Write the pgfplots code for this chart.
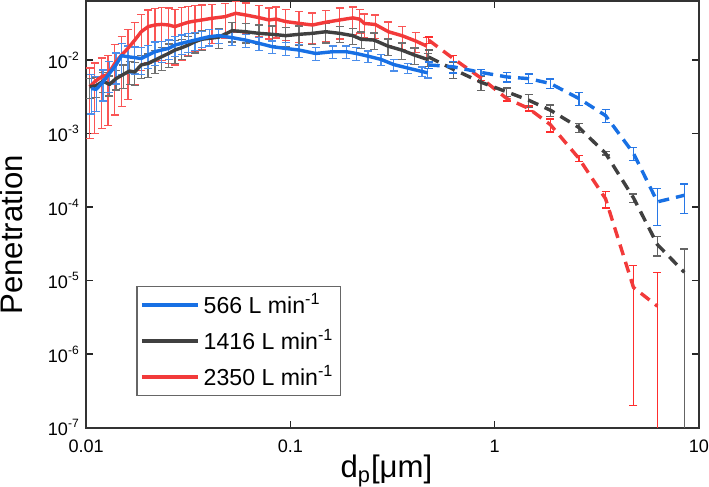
\documentclass[border=0pt]{standalone}
\usepackage{pgfplots}
\usepackage{pgfplotstable}
\pgfplotsset{compat=1.18}
\usepackage{fontspec}
\setmainfont{Liberation Sans}

\definecolor{cBlue}{RGB}{24,112,228}
\definecolor{cGray}{RGB}{64,64,64}
\definecolor{cRed}{RGB}{242,58,58}
\definecolor{eBlue}{RGB}{75,142,235}
\definecolor{eGray}{RGB}{112,112,112}
\definecolor{eRed}{RGB}{250,85,85}
\definecolor{aBlue}{RGB}{40,120,230}
\definecolor{aGray}{RGB}{100,100,100}
\definecolor{aRed}{RGB}{255,45,45}

% SMPS (solid): x, y, relative error
\pgfplotstableread{
x y e
0.0106 0.0041 0.55
0.0112 0.0040 0.50
0.0121 0.00507 0.45
0.0130 0.0066 0.45
0.0140 0.0086 0.45
0.0149 0.0115 0.45
0.0160 0.0111 0.40
0.0173 0.0108 0.40
0.0186 0.0105 0.40
0.0201 0.0117 0.35
0.0217 0.0130 0.35
0.0234 0.0137 0.32
0.0253 0.0144 0.30
0.0272 0.0160 0.30
0.0293 0.0169 0.30
0.0316 0.0178 0.28
0.0341 0.0187 0.28
0.0368 0.0197 0.25
0.0400 0.0208 0.25
0.0446 0.0215 0.22
0.0518 0.0202 0.22
0.0603 0.0187 0.20
0.0702 0.0169 0.20
0.0815 0.0152 0.20
0.0948 0.0144 0.20
0.110 0.0137 0.20
0.133 0.0123 0.20
0.161 0.0130 0.20
0.188 0.0130 0.20
0.210 0.0123 0.20
0.240 0.0113 0.18
0.278 0.0102 0.18
0.320 0.0087 0.18
0.375 0.0078 0.16
0.440 0.0070 0.15
0.470 0.0067 0.15
}\smpsBlue

\pgfplotstableread{
x y e
0.0104 0.00433 0.30
0.0112 0.00447 0.30
0.0121 0.00517 0.30
0.0130 0.00466 0.30
0.0140 0.0056 0.30
0.0152 0.00638 0.35
0.0163 0.0071 0.35
0.0173 0.0069 0.35
0.0186 0.0086 0.35
0.0201 0.0090 0.35
0.0217 0.0100 0.35
0.0234 0.0111 0.35
0.0253 0.0123 0.35
0.0272 0.0137 0.35
0.0293 0.0147 0.30
0.0316 0.0160 0.30
0.0341 0.0178 0.30
0.0368 0.0192 0.30
0.0446 0.0205 0.30
0.0518 0.0251 0.30
0.0603 0.0243 0.30
0.0702 0.0231 0.30
0.0815 0.0224 0.30
0.0948 0.0215 0.30
0.110 0.0224 0.30
0.128 0.0231 0.30
0.149 0.0243 0.30
0.174 0.0231 0.25
0.202 0.0215 0.25
0.222 0.0192 0.25
0.257 0.0187 0.25
0.300 0.0155 0.25
0.350 0.0137 0.25
0.405 0.0117 0.25
0.470 0.0102 0.20
}\smpsGray

\pgfplotstableread{
x y e
0.0104 0.00433 0.80
0.0110 0.00507 0.80
0.0119 0.00593 0.80
0.0128 0.00638 0.80
0.0138 0.0090 0.80
0.0149 0.0117 0.80
0.0160 0.0144 0.80
0.0173 0.0187 0.75
0.0186 0.0243 0.70
0.0201 0.0285 0.68
0.0217 0.0300 0.68
0.0234 0.0306 0.68
0.0253 0.0300 0.70
0.0272 0.0285 0.70
0.0293 0.0306 0.68
0.0316 0.0327 0.65
0.0341 0.0340 0.62
0.0368 0.0351 0.60
0.0413 0.0370 0.55
0.0480 0.0390 0.50
0.0539 0.0433 0.45
0.0603 0.0411 0.45
0.0702 0.0378 0.45
0.0786 0.0351 0.45
0.0849 0.0362 0.45
0.0948 0.0334 0.45
0.110 0.0316 0.45
0.128 0.0300 0.45
0.149 0.0327 0.45
0.174 0.0351 0.45
0.202 0.0375 0.40
0.218 0.0360 0.35
0.230 0.0315 0.35
0.260 0.0305 0.35
0.302 0.0243 0.35
0.353 0.0214 0.35
0.410 0.0182 0.30
0.465 0.0155 0.30
}\smpsRed

% APS (dashed): x, y, relative error plus, relative error minus
\pgfplotstableread{
x y ep em
0.475 0.0086 0.10 0.10
0.627 0.0081 0.18 0.18
0.857 0.0068 0.10 0.10
1.146 0.0059 0.15 0.15
1.466 0.0056 0.15 0.15
1.875 0.0048 0.15 0.15
2.585 0.0030 0.20 0.20
3.49 0.00176 0.20 0.20
4.78 0.00054 0.20 0.20
6.26 0.000118 0.52 0.52
8.48 0.000145 0.43 0.43
}\apsBlue

\pgfplotstableread{
x y ep em
0.475 0.0110 0.25 0.25
0.627 0.0075 0.25 0.25
0.857 0.0050 0.22 0.22
1.146 0.0037 0.13 0.13
1.466 0.00285 0.20 0.20
1.875 0.00208 0.18 0.18
2.585 0.00121 0.14 0.14
3.49 0.00054 0.05 0.05
4.78 0.000134 0.13 0.13
6.26 0.000031 0.30 0.30
8.48 0.000013 1.08 0.9999
}\apsGray

\pgfplotstableread{
x y ep em
0.475 0.0187 0.10 0.10
0.627 0.0105 0.10 0.10
0.857 0.0057 0.08 0.08
1.146 0.0030 0.07 0.07
1.466 0.0022 0.08 0.08
1.875 0.00132 0.20 0.20
2.585 0.00046 0.10 0.10
3.49 0.00013 0.25 0.25
4.78 0.0000081 0.975 0.975
6.26 0.0000045 1.90 0.9999
}\apsRed

\pgfplotsset{errs/.style={forget plot, color=#1, draw=none, mark=none,
  error bars/.cd, y dir=both, y explicit relative, error mark=-,
  error bar style={line width=0.65pt, solid, color=#1, draw=#1},
  error mark options={rotate=90, line width=0.65pt, mark size=2pt, color=#1, draw=#1, solid}}}

\begin{document}
\begin{tikzpicture}
\begin{axis}[
  scale only axis, width=305pt, height=212.5pt,
  xmode=log, ymode=log,
  xmin=0.01, xmax=10, ymin=1e-7, ymax=0.064,
  xtick={0.01,0.1,1,10}, xticklabels={0.01,0.1,1,10},
  ytick={1e-7,1e-6,1e-5,1e-4,1e-3,1e-2},
  yticklabels={10\textsuperscript{-7},10\textsuperscript{-6},10\textsuperscript{-5},10\textsuperscript{-4},10\textsuperscript{-3},10\textsuperscript{-2}},
  xminorticks=false, yminorticks=false,
  xtick pos=both, ytick pos=both, xticklabel pos=left, yticklabel pos=left,
  tick align=inside, major tick length=3.5pt,
  axis line style={line width=0.8pt, color=black!80},
  every tick/.style={line width=0.8pt, color=black!85},
  ticklabel style={font=\fontsize{9}{10}\selectfont, inner sep=0pt},
  xticklabel style={yshift=-6pt},
  yticklabel style={xshift=-3pt},
  xlabel={d\textsubscript{p}[μm]}, ylabel={Penetration},
  label style={font=\fontsize{15.5}{18}\selectfont, inner sep=0pt},
  xlabel style={at={(axis description cs:0.49,-0.101)}, anchor=center},
  ylabel style={at={(axis description cs:-0.122,0.452)}, anchor=center},
  legend style={at={(0.082,0.332)}, anchor=north west, draw=black!60, line width=0.6pt,
    fill=white, font=\fontsize{11.5}{13}\selectfont, inner sep=1.5pt, row sep=2.5pt},
  legend cell align=left,
  legend image code/.code={\draw[line width=1.7pt] (0pt,0pt) -- (28pt,0pt);},
  every axis plot/.append style={line join=round},
]
\addlegendimage{cBlue, line width=1.7pt}\addlegendentry{566 L min\textsuperscript{-1}}
\addlegendimage{cGray, line width=1.7pt}\addlegendentry{1416 L min\textsuperscript{-1}}
\addlegendimage{cRed, line width=1.7pt}\addlegendentry{2350 L min\textsuperscript{-1}}

\addplot[errs=eRed] table[x=x, y=y, y error=e] {\smpsRed};
\addplot[errs=eGray] table[x=x, y=y, y error=e] {\smpsGray};
\addplot[errs=eBlue] table[x=x, y=y, y error=e] {\smpsBlue};
\addplot[errs=aRed] table[x=x, y=y, y error plus=ep, y error minus=em] {\apsRed};
\addplot[errs=aGray] table[x=x, y=y, y error plus=ep, y error minus=em] {\apsGray};
\addplot[errs=aBlue] table[x=x, y=y, y error plus=ep, y error minus=em] {\apsBlue};

\addplot[forget plot, cRed, line width=1.7pt, mark=none] table[x=x, y=y] {\smpsRed};
\addplot[forget plot, cGray, line width=1.7pt, mark=none] table[x=x, y=y] {\smpsGray};
\addplot[forget plot, cBlue, line width=1.7pt, mark=none] table[x=x, y=y] {\smpsBlue};
\addplot[forget plot, cRed, line width=1.7pt, mark=none, dash pattern=on 5.5pt off 3.5pt] table[x=x, y=y] {\apsRed};
\addplot[forget plot, cGray, line width=1.7pt, mark=none, dash pattern=on 5.5pt off 3.5pt] table[x=x, y=y] {\apsGray};
\addplot[forget plot, cBlue, line width=1.7pt, mark=none, dash pattern=on 5.5pt off 3.5pt] table[x=x, y=y] {\apsBlue};
\end{axis}
\end{tikzpicture}
\end{document}
